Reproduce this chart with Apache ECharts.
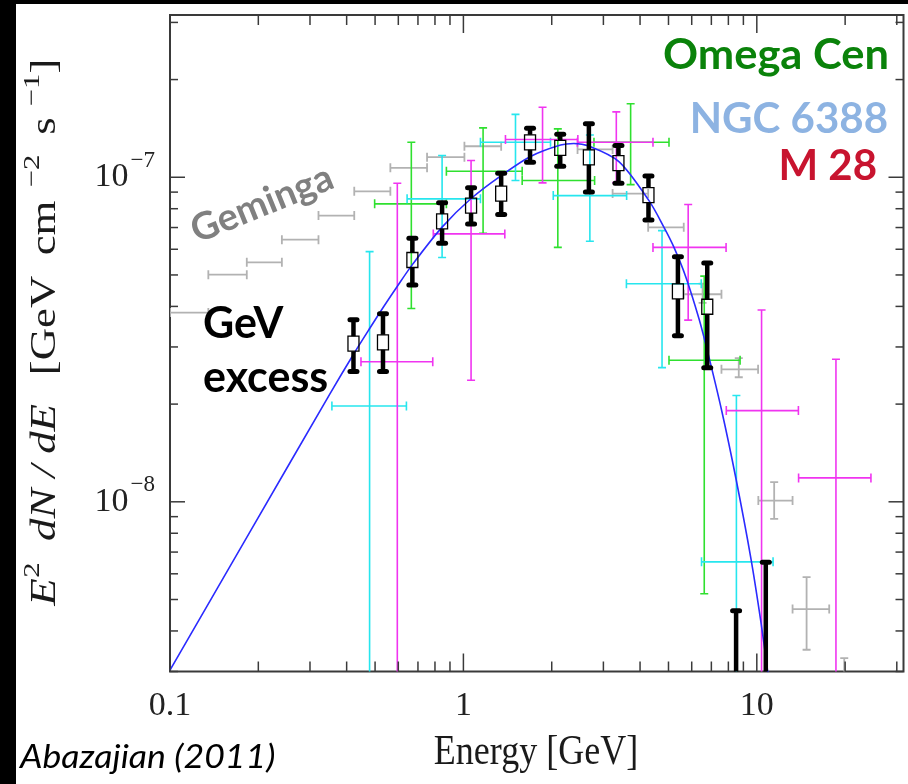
<!DOCTYPE html>
<html>
<head>
<meta charset="utf-8">
<title>GeV excess spectrum</title>
<script src="https://cdn.jsdelivr.net/npm/echarts@6/dist/echarts.min.js"></script>
<style>
  html, body { margin: 0; padding: 0; background: #ffffff; }
  #chart { width: 908px; height: 784px; }
</style>
</head>
<body>
<div id="chart"></div>
<script>
// ---- axis ticks and labels (energy in GeV, flux in GeV cm^-2 s^-1) ----
const xTickLabels = [0.1, 1, 10];
const yTickLabels = [1e-8, 1e-7];
const xMajorTicks = [0.1, 1, 10];
const xMinorTicks = [0.2, 0.3, 0.4, 0.5, 0.6, 0.7, 0.8, 0.9, 2, 3, 4, 5, 6, 7, 8, 9, 20, 30];
const yMajorTicks = [1e-8, 1e-7];
const yMinorTicks = [3e-9, 4e-9, 5e-9, 6e-9, 7e-9, 8e-9, 9e-9,
                     2e-8, 3e-8, 4e-8, 5e-8, 6e-8, 7e-8, 8e-8, 9e-8, 2e-7, 3e-7];

// ---- GeV excess (black): points with flux errors ----
const excessE    = [0.422, 0.532, 0.670, 0.846, 1.062, 1.345, 1.687, 2.138, 2.677, 3.376, 4.273, 5.384, 6.778];
const excessFlux = [3.07e-8, 3.10e-8, 5.56e-8, 7.31e-8, 8.18e-8, 8.91e-8, 1.281e-7, 1.232e-7, 1.152e-7, 1.105e-7, 8.81e-8, 4.45e-8, 3.99e-8];
const excessLow  = [2.52e-8, 2.52e-8, 4.66e-8, 6.26e-8, 7.18e-8, 7.68e-8, 1.112e-7, 1.081e-7, 9.01e-8, 9.58e-8, 7.39e-8, 3.25e-8, 2.59e-8];
const excessHigh = [3.64e-8, 3.80e-8, 6.49e-8, 8.34e-8, 9.28e-8, 1.029e-7, 1.416e-7, 1.357e-7, 1.463e-7, 1.253e-7, 1.0085e-7, 5.69e-8, 5.44e-8];
// upper limits
const excessLimitE    = [8.50, 10.73];
const excessLimitFlux = [4.62e-9, 6.51e-9];

// ---- fitted spectrum (blue) ----
const fitE    = [0.1, 0.1875, 0.3516, 0.4222, 0.4816, 0.5346, 0.5939, 0.670, 0.846, 1.062, 1.345, 1.693, 2.143,
                 2.379, 2.677, 3.388, 4.290, 4.827, 5.221, 5.724, 6.356, 6.787, 7.596, 8.479, 9.539, 10.32, 10.90];
const fitFlux = [3.03e-9, 8.09e-9, 2.158e-8, 2.849e-8, 3.444e-8, 3.99e-8, 4.60e-8, 5.38e-8, 7.02e-8, 8.60e-8, 1.012e-7,
                 1.159e-7, 1.257e-7, 1.271e-7, 1.248e-7, 1.118e-7, 8.47e-8, 7.01e-8, 6.08e-8, 4.94e-8, 3.66e-8,
                 2.918e-8, 1.905e-8, 1.186e-8, 6.72e-9, 4.28e-9, 2.98e-9];

// ---- Geminga (gray) ----
const gemE        = [0.1162, 0.1571, 0.2097, 0.2778, 0.3690, 0.4892, 0.6510, 0.8705, 1.1644, 2.810, 3.708, 4.902, 6.535, 8.680, 11.46, 14.78, 19.86];
const gemELow     = [0.1, 0.1351, 0.1827, 0.2406, 0.3207, 0.4246, 0.5637, 0.7518, 1.008, 2.449, 3.225, 4.263, 5.636, 7.578, 10.12, 13.24, null];
const gemEHigh    = [0.1351, 0.1827, 0.2406, 0.3207, 0.4246, 0.5637, 0.7518, 1.008, 1.345, 3.225, 4.263, 5.636, 7.578, 10.10, 13.24, 17.65, null];
const gemFlux     = [3.83e-8, 5.01e-8, 5.47e-8, 6.42e-8, 7.62e-8, 9.05e-8, 1.069e-7, 1.153e-7, 1.246e-7, 1.218e-7, 8.91e-8, 7.01e-8, 4.36e-8, 2.56e-8, 1.009e-8, 4.67e-9, null];
const gemFluxLow  = [null, null, null, null, null, null, null, null, null, null, null, null, 4.10e-8, 2.42e-8, 8.86e-9, 3.50e-9, null];
const gemFluxHigh = [null, null, null, null, null, null, null, null, null, null, null, null, 4.70e-8, 2.77e-8, 1.150e-8, 5.86e-9, 3.30e-9];

// ---- Omega Cen (green) ----
const omegaE        = [0.6645, 1.167, 2.098, 3.715, 6.62];
const omegaELow     = [0.4983, 0.875, 1.586, 2.786, 5.02];
const omegaEHigh    = [0.875, 1.586, 2.80, 5.02, 8.77];
const omegaFlux     = [8.28e-8, 1.044e-7, 9.77e-8, 1.282e-7, 2.73e-8];
const omegaFluxLow  = [3.94e-8, 6.72e-8, 6.08e-8, 9.49e-8, 5.21e-9];
const omegaFluxHigh = [1.282e-7, 1.420e-7, 1.41e-7, 1.685e-7, 4.96e-8];

// ---- NGC 6388 (cyan); null lower error = extends below the plot ----
const ngcE        = [0.4789, 0.846, 1.505, 2.698, 4.753, 8.52];
const ngcELow     = [0.3563, 0.6428, 1.143, 2.024, 3.594, 6.48];
const ngcEHigh    = [0.6394, 1.143, 1.981, 3.60, 6.466, 11.36];
const ngcFlux     = [1.974e-8, 8.58e-8, 1.282e-7, 8.78e-8, 4.70e-8, 6.53e-9];
const ngcFluxLow  = [null, 5.66e-8, 9.77e-8, 6.35e-8, 2.59e-8, null];
const ngcFluxHigh = [5.90e-8, 1.167e-7, 1.562e-7, 1.35e-7, 6.85e-8, 2.127e-8];

// ---- M 28 (magenta) ----
const m28E        = [0.5953, 1.062, 1.861, 3.32, 5.836, 10.38, 18.61];
const m28ELow     = [0.4476, 0.7895, 1.391, 2.446, 4.427, 7.87, 13.88];
const m28EHigh    = [0.7862, 1.384, 2.455, 4.427, 7.857, 13.86, 24.49];
const m28Flux     = [2.70e-8, 6.69e-8, 1.307e-7, 1.282e-7, 6.08e-8, 1.91e-8, 1.185e-8];
const m28FluxLow  = [null, 2.37e-8, 9.61e-8, 9.63e-8, 3.63e-8, null, null];
const m28FluxHigh = [9.58e-8, 1.126e-7, 1.644e-7, 1.590e-7, 8.24e-8, 3.90e-8, 2.75e-8];

// ---------------------------------------------------------------------
const FRAME = '#3a3a3a';
const SERIF = 'Liberation Serif';
const SANS = 'Lato';

function rows(e, eLo, eHi, f, fLo, fHi) {
  return e.map((v, i) => [v, f[i], eLo[i], eHi[i], fLo[i], fHi[i]]);
}

const fin = v => v !== null && v !== undefined && isFinite(v);

// error bars with caps; a missing lower flux runs the bar off the bottom of the plot
function errorSeries(name, data, color, width, z) {
  return {
    type: 'custom', name, z, clip: true,
    encode: { x: 0, y: 1 },
    data,
    renderItem(params, api) {
      const cs = params.coordSys;
      const e = api.value(0), f = api.value(1);
      const eLo = api.value(2), eHi = api.value(3), fLo = api.value(4), fHi = api.value(5);
      const px = v => api.coord([v, 1e-8])[0];
      const py = v => api.coord([1, v])[1];
      const st = { stroke: color, lineWidth: width, fill: 'none' };
      const seg = (x1, y1, x2, y2) => ({ type: 'line', shape: { x1, y1, x2, y2 }, style: st });
      const kids = [];
      const cx = px(e);
      if (fin(f) && fin(eLo) && fin(eHi)) {
        const y = py(f), a = px(eLo), b = px(eHi);
        kids.push(seg(a, y, b, y), seg(a, y - 4.5, a, y + 4.5), seg(b, y - 4.5, b, y + 4.5));
      }
      if (fin(fHi)) {
        const top = py(fHi);
        const bot = fin(fLo) ? py(fLo) : cs.y + cs.height + 4;
        kids.push(seg(cx, top, cx, bot), seg(cx - 4, top, cx + 4, top));
        if (fin(fLo)) kids.push(seg(cx - 4, bot, cx + 4, bot));
      }
      return { type: 'group', children: kids };
    }
  };
}

const blackBar = (x1, y1, x2, y2, w, cap) => ({
  type: 'line', shape: { x1, y1, x2, y2 },
  style: { stroke: '#000', lineWidth: w, lineCap: cap }
});

const excessSeries = {
  type: 'custom', name: 'GeV excess', z: 5, clip: true,
  encode: { x: 0, y: 1 },
  data: excessE.map((v, i) => [v, excessFlux[i], excessLow[i], excessHigh[i]]),
  renderItem(params, api) {
    const c = api.coord([api.value(0), api.value(1)]);
    const top = api.coord([api.value(0), api.value(3)])[1];
    const bot = api.coord([api.value(0), api.value(2)])[1];
    const hw = 5.5, hh = 7.5;
    return {
      type: 'group',
      children: [
        blackBar(c[0], top, c[0], c[1] - hh, 4.5, 'butt'),
        blackBar(c[0], c[1] + hh, c[0], bot, 4.5, 'butt'),
        blackBar(c[0] - 3.5, top, c[0] + 3.5, top, 5, 'round'),
        blackBar(c[0] - 3.5, bot, c[0] + 3.5, bot, 5, 'round'),
        { type: 'rect', shape: { x: c[0] - hw, y: c[1] - hh, width: 2 * hw, height: 2 * hh },
          style: { fill: 'none', stroke: '#000', lineWidth: 1.3 } }
      ]
    };
  }
};

const excessLimitSeries = {
  type: 'custom', name: 'GeV excess limits', z: 5, clip: true,
  encode: { x: 0, y: 1 },
  data: excessLimitE.map((v, i) => [v, excessLimitFlux[i]]),
  renderItem(params, api) {
    const cs = params.coordSys;
    const c = api.coord([api.value(0), api.value(1)]);
    return {
      type: 'group',
      children: [
        blackBar(c[0], c[1], c[0], cs.y + cs.height + 4, 4.5, 'butt'),
        blackBar(c[0] - 3.5, c[1], c[0] + 3.5, c[1], 5, 'round')
      ]
    };
  }
};

// inward ticks on all four sides of the frame
const tickStyle = { stroke: FRAME, lineWidth: 1.5 };
const xTickSeries = {
  type: 'custom', name: 'x ticks', z: 6, clip: false, silent: true,
  encode: { x: 0, y: 1 },
  data: xMajorTicks.map(v => [v, 1e-8, 1]).concat(xMinorTicks.map(v => [v, 1e-8, 0])),
  renderItem(params, api) {
    const cs = params.coordSys;
    const x = api.coord([api.value(0), api.value(1)])[0];
    const len = api.value(2) ? 18 : 10;
    const b = cs.y + cs.height, t = cs.y;
    return { type: 'group', children: [
      { type: 'line', shape: { x1: x, y1: b, x2: x, y2: b - len }, style: tickStyle },
      { type: 'line', shape: { x1: x, y1: t, x2: x, y2: t + len }, style: tickStyle }
    ] };
  }
};
const yTickSeries = {
  type: 'custom', name: 'y ticks', z: 6, clip: false, silent: true,
  encode: { x: 0, y: 1 },
  data: yMajorTicks.map(v => [1, v, 1]).concat(yMinorTicks.map(v => [1, v, 0])),
  renderItem(params, api) {
    const cs = params.coordSys;
    const y = api.coord([api.value(0), api.value(1)])[1];
    const len = api.value(2) ? 15 : 8;
    const l = cs.x, r = cs.x + cs.width;
    return { type: 'group', children: [
      { type: 'line', shape: { x1: l, y1: y, x2: l + len, y2: y }, style: tickStyle },
      { type: 'line', shape: { x1: r, y1: y, x2: r - len, y2: y }, style: tickStyle }
    ] };
  }
};

const matchTick = (list, v) => list.find(t => Math.abs(t - v) / t < 1e-6);

// rotated y-axis title, set piece by piece
function vText(text, x, y, size, italic) {
  return {
    type: 'text', x, y, rotation: Math.PI / 2, scaleX: 1.28, z: 20,
    style: { text, fill: '#1a1a1a', fontFamily: SERIF, fontSize: size,
             fontStyle: italic ? 'italic' : 'normal',
             align: 'center', verticalAlign: 'middle' }
  };
}
function label(text, x, y, opts) {
  return {
    type: 'text', x, y, z: 20, rotation: opts.rotation || 0,
    scaleX: opts.scaleX || 1, scaleY: opts.scaleY || 1,
    style: { text, fill: opts.color, fontFamily: opts.family || SANS, fontSize: opts.size,
             fontWeight: opts.weight || 'normal', fontStyle: opts.style || 'normal',
             align: opts.align || 'left', verticalAlign: 'middle' }
  };
}

const chart = echarts.init(document.getElementById('chart'), null, { renderer: 'canvas' });
chart.setOption({
  animation: false,
  backgroundColor: '#ffffff',
  grid: { left: 170, top: 15, right: 4.5, bottom: 112.5, show: true,
          borderColor: FRAME, borderWidth: 2, backgroundColor: 'transparent' },
  xAxis: {
    type: 'log', logBase: 10, min: 0.1, max: 31.62,
    axisLine: { show: false }, axisTick: { show: false }, splitLine: { show: false },
    minorTick: { show: false },
    axisLabel: {
      margin: 18, color: '#222', fontFamily: SERIF, fontSize: 34,
      formatter: v => { const m = matchTick(xTickLabels, v); return m === undefined ? '' : String(m); }
    }
  },
  yAxis: {
    type: 'log', logBase: 10, min: 3e-9, max: 3.162e-7,
    axisLine: { show: false }, axisTick: { show: false }, splitLine: { show: false },
    minorTick: { show: false },
    axisLabel: {
      margin: 15,
      formatter: v => {
        const m = matchTick(yTickLabels, v);
        if (m === undefined) return '';
        return '{b|10}{s|\u2212' + Math.abs(Math.round(Math.log10(m))) + '}';
      },
      rich: {
        b: { fontFamily: SERIF, fontSize: 34, color: '#222', verticalAlign: 'middle' },
        s: { fontFamily: SERIF, fontSize: 23, color: '#222', verticalAlign: 'middle', padding: [0, 0, 33, 2] }
      }
    }
  },
  series: [
    errorSeries('Geminga', rows(gemE, gemELow, gemEHigh, gemFlux, gemFluxLow, gemFluxHigh), '#b2b2b2', 1.8, 2),
    errorSeries('Omega Cen', rows(omegaE, omegaELow, omegaEHigh, omegaFlux, omegaFluxLow, omegaFluxHigh), '#2fe02f', 1.6, 3),
    errorSeries('NGC 6388', rows(ngcE, ngcELow, ngcEHigh, ngcFlux, ngcFluxLow, ngcFluxHigh), '#26e6ee', 1.6, 3),
    errorSeries('M 28', rows(m28E, m28ELow, m28EHigh, m28Flux, m28FluxLow, m28FluxHigh), '#f034f0', 1.6, 3),
    {
      type: 'line', name: 'fit', z: 4, clip: true, smooth: 0.3, showSymbol: false, silent: true,
      data: fitE.map((v, i) => [v, fitFlux[i]]),
      lineStyle: { color: '#2b2bff', width: 1.6 }
    },
    excessSeries,
    excessLimitSeries,
    xTickSeries,
    yTickSeries
  ],
  graphic: { elements: [
    // y-axis title: E^2 dN/dE [GeV cm^-2 s^-1]
    vText('E', 45.7, 592, 35, true),
    vText('2', 33, 570, 24, false),
    vText('dN / dE', 45.7, 472.5, 35, true),
    vText('[GeV', 45.7, 325.5, 35, false),
    vText('cm', 45.7, 228, 35, false),
    vText('\u22122', 33, 171, 24, false),
    vText('s', 45.7, 126, 35, false),
    vText('\u22121', 33, 90, 24, false),
    vText(']', 45.7, 66, 35, false),
    // x-axis title
    label('Energy [GeV]', 536, 753, { color: '#1a1a1a', family: SERIF, size: 36, align: 'center', scaleY: 1.2 }),
    // source labels
    label('Omega Cen', 889, 55, { color: '#0a820a', size: 42, weight: 'bold', align: 'right', scaleX: 1.035 }),
    label('NGC 6388', 888, 119, { color: '#8db3e2', size: 42, weight: 'bold', align: 'right' }),
    label('M 28', 877, 166.5, { color: '#c8142f', size: 42, weight: 'bold', align: 'right' }),
    label('Geminga', 262, 204, { color: '#808080', size: 38, weight: 'bold', align: 'center', rotation: 22 * Math.PI / 180 }),
    label('GeV', 203, 324.5, { color: '#000', size: 43, weight: 'bold' }),
    label('excess', 203, 378.5, { color: '#000', size: 43, weight: 'bold' }),
    label('Abazajian (2011)', 20, 757, { color: '#000', size: 33, style: 'italic', scaleX: 1.08 }),
    // dark edges of the figure
    { type: 'rect', z: 30, shape: { x: 0, y: 0, width: 908, height: 4 }, style: { fill: '#000' } },
    { type: 'rect', z: 30, shape: { x: 0, y: 0, width: 16, height: 784 }, style: { fill: '#000' } }
  ] }
});
</script>
</body>
</html>
